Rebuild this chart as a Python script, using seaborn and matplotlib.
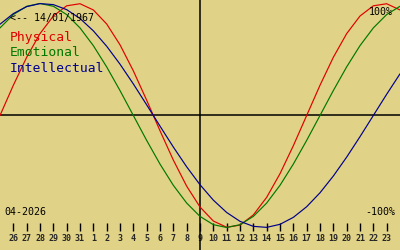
import matplotlib
matplotlib.use("Agg")
import matplotlib.pyplot as plt
import seaborn as sns
import pandas as pd

# day positions: index -1 (25 Mar) .. 29 (24 Apr 2026)
day_index = list(range(-1, 30))
tick_labels = ["26", "27", "28", "29", "30", "31", "1", "2", "3", "4", "5", "6", "7", "8",
               "9", "10", "11", "12", "13", "14", "15", "16", "17", "18", "19", "20",
               "21", "22", "23"]
tick_index = list(range(0, 29))

physical = [0.0, 0.2698, 0.5196, 0.7308, 0.8879, 0.9791, 0.9977, 0.9423, 0.8170, 0.6311,
            0.3984, 0.1362, -0.1362, -0.3984, -0.6311, -0.8170, -0.9423, -0.9977, -0.9791,
            -0.8879, -0.7308, -0.5196, -0.2698, 0.0, 0.2698, 0.5196, 0.7308, 0.8879, 0.9791,
            0.9977, 0.9423]
emotional = [0.7818, 0.9010, 0.9749, 1.0, 0.9749, 0.9010, 0.7818, 0.6235, 0.4339, 0.2225,
             0.0, -0.2225, -0.4339, -0.6235, -0.7818, -0.9010, -0.9749, -1.0, -0.9749,
             -0.9010, -0.7818, -0.6235, -0.4339, -0.2225, 0.0, 0.2225, 0.4339, 0.6235,
             0.7818, 0.9010, 0.9749]
intellectual = [0.8146, 0.9096, 0.9718, 0.9989, 0.9898, 0.9450, 0.8660, 0.7557, 0.6182,
                0.4582, 0.2817, 0.0951, -0.0951, -0.2817, -0.4582, -0.6182, -0.7557,
                -0.8660, -0.9450, -0.9898, -0.9989, -0.9718, -0.9096, -0.8146, -0.6901,
                -0.5406, -0.3717, -0.1893, 0.0, 0.1893, 0.3717]

series_names = ["Physical", "Emotional", "Intellectual"]
series_colors = ["#e00000", "#007800", "#00008c"]
birth_label = "<-- 14/01/1967"
month_label = "04-2026"
today_index = 14

bg = "#e0d287"
sns.set_theme(style="white")
plt.rcParams["font.family"] = ["DejaVu Sans Mono", "DejaVu Sans"]

df = pd.DataFrame({
    "day": day_index * 3,
    "value": physical + emotional + intellectual,
    "series": [series_names[0]] * len(day_index) + [series_names[1]] * len(day_index)
              + [series_names[2]] * len(day_index),
})

fig = plt.figure(figsize=(4, 2.5), dpi=100, facecolor=bg)
ax = fig.add_axes([0, 0, 1, 1])
ax.set_facecolor(bg)

ymin, ymax = -1.201, 1.031
ax.set_xlim(-1, 29)
ax.set_ylim(ymin, ymax)

ax.axhline(0, color="black", lw=1.1, zorder=1)
ax.axvline(today_index, color="black", lw=1.1, zorder=1)

sns.lineplot(data=df, x="day", y="value", hue="series", hue_order=series_names,
             palette=series_colors, lw=0.85, legend=False, ax=ax, zorder=3)

for s in ax.spines.values():
    s.set_visible(False)
ax.spines["bottom"].set_position(("data", -1.031))
ax.set_xticks(tick_index)
ax.set_xticklabels(tick_labels, fontsize=6, fontweight="bold")
ax.tick_params(axis="x", direction="in", length=6, width=1, color="black", pad=2.5,
               bottom=True)
ax.set_yticks([])
ax.set_xlabel("")
ax.set_ylabel("")

ax.text(0.025, 0.93, birth_label, transform=ax.transAxes, fontsize=7.2, color="black",
        va="center", ha="left")
ys = [0.85, 0.788, 0.727]
for name, c, yy in zip(series_names, series_colors, ys):
    ax.text(0.025, yy, name, transform=ax.transAxes, fontsize=9.4, color=c,
            va="center", ha="left")
ax.text(0.983, 0.952, "100%", transform=ax.transAxes, fontsize=7.2, color="black",
        va="center", ha="right")
ax.text(0.987, 0.152, "-100%", transform=ax.transAxes, fontsize=7.2, color="black",
        va="center", ha="right")
ax.text(0.01, 0.152, month_label, transform=ax.transAxes, fontsize=7.2, color="black",
        va="center", ha="left")

fig.savefig("out.png", dpi=100, facecolor=bg)
